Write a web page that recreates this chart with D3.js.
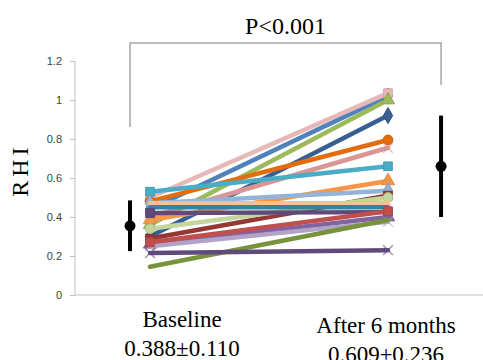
<!DOCTYPE html>
<html>
<head>
<meta charset="utf-8">
<script src="https://cdn.jsdelivr.net/npm/d3@7"></script>
<style>
  body { margin: 0; background: #fff; }
  svg { display: block; }
  .tick-label { font-family: "Liberation Sans", Arial, sans-serif; font-size: 11px; fill: #404040; }
  .serif { font-family: "Liberation Serif", "Times New Roman", serif; fill: #000; }
</style>
</head>
<body>
<svg width="483" height="360"></svg>
<script>
// groups and summary text
const groups = ['Baseline', 'After 6 months'];
const summaries = ['0.388\u00b10.110', '0.609\u00b10.236'];
const yTicks = [0, 0.2, 0.4, 0.6, 0.8, 1, 1.2];
const pText = 'P<0.001';

// per-patient RHI
const baseline = [0.44, 0.50, 0.36, 0.30, 0.48, 0.40, 0.53, 0.385, 0.47, 0.29, 0.34, 0.47, 0.45, 0.42, 0.26, 0.25, 0.145, 0.215, 0.27];
const after    = [1.02, 1.035, 1.00, 0.92, 0.795, 0.755, 0.66, 0.585, 0.535, 0.51, 0.50, 0.47, 0.45, 0.425, 0.40, 0.375, 0.385, 0.23, 0.43];
const colors   = ['#4F81BD', '#E6B9B8', '#9BBB59', '#376092', '#E46C0A', '#D99694', '#4BACC6', '#F79646', '#95B3D7',
                  '#953735', '#C3D69B', '#FAC090', '#31859C', '#604A7B', '#8064A2', '#B3A2C7', '#77933C', '#604A7B', '#C0504D'];
const markers  = ['diamond', 'square', 'triangle', 'diamond', 'circle', 'times', 'square', 'triangle', 'diamond',
                  'square', 'circle', 'none', 'none', 'square', 'triangle', 'times', 'none', 'times', 'square'];

// mean and SD bars
const means = [0.355, 0.66];
const lows  = [0.225, 0.40];
const highs = [0.485, 0.92];

const svg = d3.select('svg');

const y = d3.scaleLinear().domain([0, 1.2]).range([295, 61]);
const x = d3.scaleLinear().domain([0, 1]).range([150, 388]);
const meanPos = [-0.084, 1.223];

// axes
svg.append('line')
    .attr('x1', 75).attr('x2', 75)
    .attr('y1', y(1.2)).attr('y2', y(0))
    .attr('stroke', '#bfbfbf');
svg.append('line')
    .attr('x1', 75).attr('x2', 483)
    .attr('y1', y(0)).attr('y2', y(0))
    .attr('stroke', '#bfbfbf');

const yAxis = d3.axisLeft(y).tickValues(yTicks).tickSize(5).tickFormat(d3.format('~g'));
const ya = svg.append('g').attr('transform', 'translate(75,0)').call(yAxis);
ya.select('.domain').remove();
ya.selectAll('.tick line').attr('stroke', '#bfbfbf');
ya.selectAll('.tick text').attr('class', 'tick-label').attr('x', -13);

// RHI title
svg.append('text')
    .attr('class', 'serif')
    .attr('transform', `translate(28,${y(0.64)}) rotate(-90)`)
    .attr('text-anchor', 'middle')
    .attr('font-size', 24)
    .attr('letter-spacing', 4)
    .text('RHI');

// bracket
const bx0 = x(meanPos[0]), bx1 = x(meanPos[1]);
svg.append('path')
    .attr('d', `M${bx0},127V43H${bx1}V85`)
    .attr('fill', 'none')
    .attr('stroke', '#a6a6a6')
    .attr('stroke-width', 1.5);
svg.append('text')
    .attr('class', 'serif')
    .attr('x', (bx0 + bx1) / 2)
    .attr('y', 34)
    .attr('text-anchor', 'middle')
    .attr('font-size', 24)
    .text(pText);

// paired lines
const pairs = baseline.map((b, i) => ({ b, a: after[i], c: colors[i], m: markers[i] }));

const symbolTypes = {
    diamond: d3.symbolDiamond,
    square: d3.symbolSquare,
    triangle: d3.symbolTriangle,
    circle: d3.symbolCircle,
    times: d3.symbolTimes
};

const g = svg.append('g');
pairs.forEach(p => {
    const s = g.append('g');
    s.append('line')
        .attr('x1', x(0)).attr('y1', y(p.b))
        .attr('x2', x(1)).attr('y2', y(p.a))
        .attr('stroke', p.c)
        .attr('stroke-width', 4.5)
        .attr('stroke-linecap', 'round');
    if (p.m === 'none') return;
    const sym = d3.symbol().type(symbolTypes[p.m]).size(p.m === 'times' ? 64 : 75);
    [[0, p.b], [1, p.a]].forEach(([k, v]) => {
        const mk = s.append('path')
            .attr('d', sym())
            .attr('transform', `translate(${x(k)},${y(v)})`);
        if (p.m === 'times') {
            mk.attr('fill', 'none').attr('stroke', p.c).attr('stroke-width', 1.5).attr('opacity', 0.6);
        } else {
            mk.attr('fill', p.c).attr('stroke', d3.color(p.c).darker(0.3)).attr('stroke-width', 1);
        }
    });
});

// mean +/- SD
means.forEach((m, i) => {
    const cx = x(meanPos[i]);
    svg.append('line')
        .attr('x1', cx).attr('x2', cx)
        .attr('y1', y(lows[i])).attr('y2', y(highs[i]))
        .attr('stroke', '#000')
        .attr('stroke-width', 4);
    svg.append('circle')
        .attr('cx', cx).attr('cy', y(m))
        .attr('r', 5.5)
        .attr('fill', '#000');
});

// category labels
const labelX = [182, 386];
groups.forEach((t, i) => {
    svg.append('text')
        .attr('class', 'serif')
        .attr('x', labelX[i])
        .attr('y', i === 0 ? 327 : 333)
        .attr('text-anchor', 'middle')
        .attr('font-size', 23)
        .text(t);
    svg.append('text')
        .attr('class', 'serif')
        .attr('x', labelX[i])
        .attr('y', i === 0 ? 356 : 362)
        .attr('text-anchor', 'middle')
        .attr('font-size', 23)
        .text(summaries[i]);
});
</script>
</body>
</html>
